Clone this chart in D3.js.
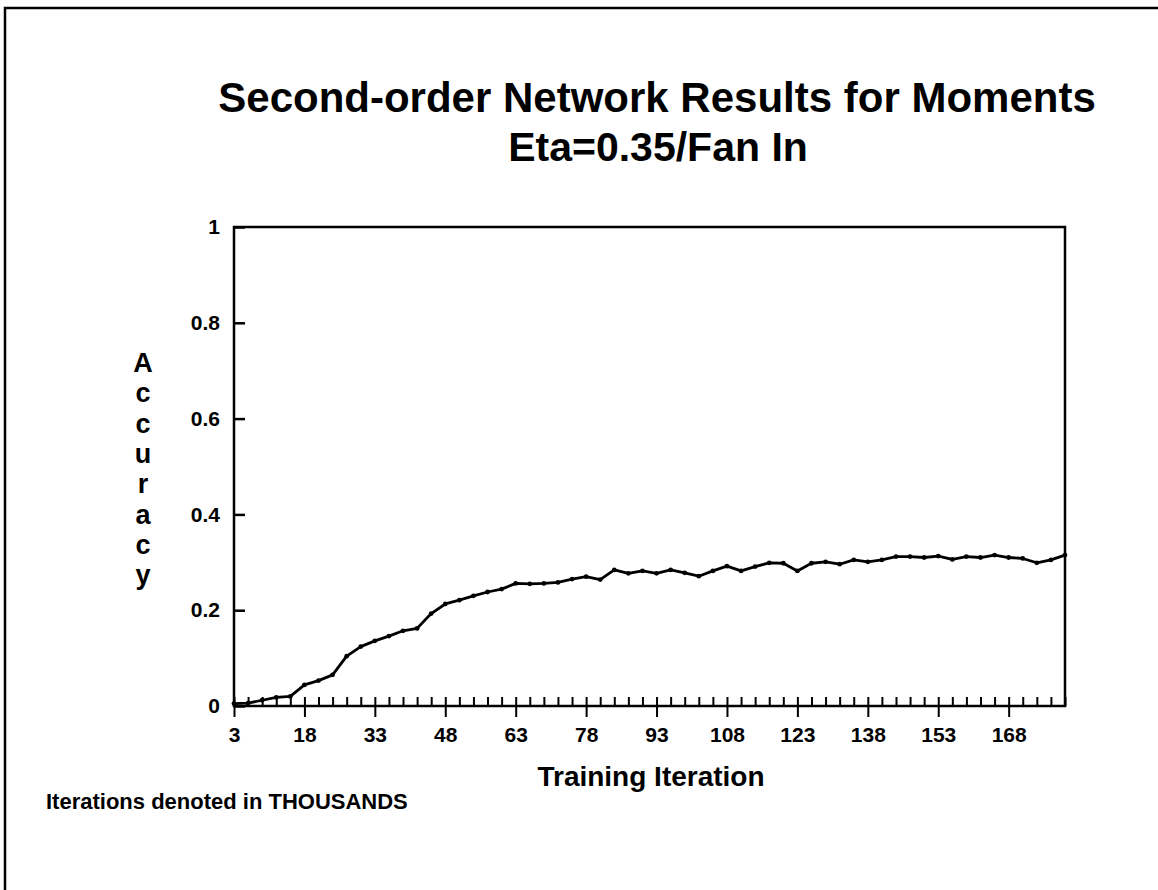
<!DOCTYPE html>
<html>
<head>
<meta charset="utf-8">
<script src="https://cdn.jsdelivr.net/npm/d3@7"></script>
<style>
  body { margin: 0; background: #fff; }
  text { font-family: "Liberation Sans", Arial, sans-serif; font-weight: bold; fill: #000; }
</style>
</head>
<body>
<div id="chart"></div>
<script>
// iterations (thousands) and accuracy
var iterations = [3, 6, 9, 12, 15, 18, 21, 24, 27, 30, 33, 36, 39, 42, 45, 48, 51, 54, 57, 60,
                  63, 66, 69, 72, 75, 78, 81, 84, 87, 90, 93, 96, 99, 102, 105, 108, 111, 114, 117, 120,
                  123, 126, 129, 132, 135, 138, 141, 144, 147, 150, 153, 156, 159, 162, 165, 168, 171, 174, 177, 180];
var accuracy = [0.005, 0.006, 0.012, 0.018, 0.02, 0.044, 0.053, 0.065, 0.104, 0.124,
                0.136, 0.146, 0.157, 0.162, 0.193, 0.213, 0.221, 0.23, 0.238, 0.244,
                0.256, 0.255, 0.256, 0.258, 0.265, 0.27, 0.264, 0.284, 0.277, 0.282,
                0.277, 0.284, 0.278, 0.271, 0.282, 0.292, 0.282, 0.291, 0.299, 0.298,
                0.282, 0.298, 0.301, 0.296, 0.305, 0.301, 0.305, 0.312, 0.312, 0.31,
                0.313, 0.306, 0.312, 0.31, 0.315, 0.31, 0.308, 0.299, 0.305, 0.315];
var xTickLabels = [3, 18, 33, 48, 63, 78, 93, 108, 123, 138, 153, 168];
var yTickLabels = [0, 0.2, 0.4, 0.6, 0.8, 1];

(function(d3) {

var width = 1158, height = 890;
var plotLeft = 234, plotRight = 1065, plotTop = 227, plotBottom = 706;

var svg = d3.select('#chart').append('svg')
  .attr('width', width)
  .attr('height', height);

// page frame (top and left edges only)
svg.append('path')
  .attr('d', 'M5,' + height + 'V8H' + width)
  .attr('fill', 'none')
  .attr('stroke', '#000')
  .attr('stroke-width', 2.5);

var x = d3.scaleLinear().domain([3, 180]).range([plotLeft, plotRight]);
var y = d3.scaleLinear().domain([0, 1]).range([plotBottom, plotTop]);

// titles
svg.append('text')
  .attr('x', 657).attr('y', 112)
  .attr('text-anchor', 'middle')
  .style('font-size', '42px')
  .text('Second-order Network Results for Moments');
svg.append('text')
  .attr('x', 658).attr('y', 161)
  .attr('text-anchor', 'middle')
  .style('font-size', '41px')
  .text('Eta=0.35/Fan In');

// plot box
svg.append('rect')
  .attr('x', plotLeft).attr('y', plotTop)
  .attr('width', plotRight - plotLeft).attr('height', plotBottom - plotTop)
  .attr('fill', 'none')
  .attr('stroke', '#000')
  .attr('stroke-width', 2.5);

// y axis
var yAxis = d3.axisLeft(y)
  .tickValues(yTickLabels)
  .tickSize(-11)
  .tickPadding(14)
  .tickFormat(function(d) { return d; });
var gy = svg.append('g')
  .attr('transform', 'translate(' + plotLeft + ',0)')
  .call(yAxis);
gy.select('.domain').remove();
gy.selectAll('line').attr('stroke', '#000').attr('stroke-width', 2.5);
gy.selectAll('text')
  .style('font-size', '21px')
  .style('font-family', '"Liberation Sans", Arial, sans-serif');

// x axis: minor ticks every 3 thousand, majors every 15
var minorTicks = iterations.filter(function(d) { return xTickLabels.indexOf(d) < 0; });
var gxMinor = svg.append('g')
  .attr('transform', 'translate(0,' + plotBottom + ')')
  .call(d3.axisBottom(x).tickValues(minorTicks).tickSize(-9).tickFormat(''));
gxMinor.select('.domain').remove();
gxMinor.selectAll('line').attr('stroke', '#000').attr('stroke-width', 2);

var gx = svg.append('g')
  .attr('transform', 'translate(0,' + plotBottom + ')')
  .call(d3.axisBottom(x).tickValues(xTickLabels).tickSize(11).tickPadding(10)
    .tickFormat(function(d) { return d; }));
gx.select('.domain').remove();
gx.selectAll('line').attr('stroke', '#000').attr('stroke-width', 2).attr('y1', -9);
gx.selectAll('text')
  .style('font-size', '21px')
  .style('font-family', '"Liberation Sans", Arial, sans-serif');

// axis titles
svg.append('text')
  .attr('x', 651).attr('y', 786)
  .attr('text-anchor', 'middle')
  .style('font-size', '28px')
  .text('Training Iteration');

var yLabel = 'Accuracy'.split('');
svg.append('g').selectAll('text')
  .data(yLabel)
  .enter()
  .append('text')
  .attr('x', 143)
  .attr('y', function(d, i) { return 372 + i * 30.3; })
  .attr('text-anchor', 'middle')
  .style('font-size', '27px')
  .text(function(d) { return d; });

svg.append('text')
  .attr('x', 46).attr('y', 809)
  .style('font-size', '22px')
  .text('Iterations denoted in THOUSANDS');

// accuracy curve
var data = iterations.map(function(d, i) { return { it: d, acc: accuracy[i] }; });
var line = d3.line()
  .x(function(d) { return x(d.it); })
  .y(function(d) { return y(d.acc); });

svg.append('path')
  .datum(data)
  .attr('d', line)
  .attr('fill', 'none')
  .attr('stroke', '#000')
  .attr('stroke-width', 2.8)
  .attr('stroke-linejoin', 'round');

svg.append('g').selectAll('circle')
  .data(data)
  .enter()
  .append('circle')
  .attr('cx', function(d) { return x(d.it); })
  .attr('cy', function(d) { return y(d.acc); })
  .attr('r', 2.4)
  .attr('fill', '#000');

})(window.d3);
</script>
</body>
</html>
